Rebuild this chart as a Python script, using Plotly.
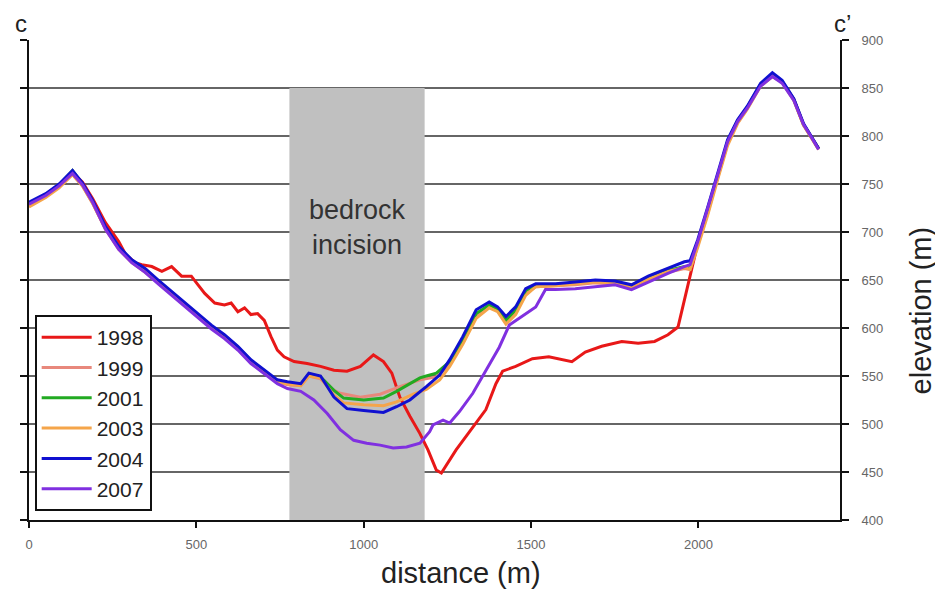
import plotly.graph_objects as go

# ---------------- data ----------------
years = ["1998", "1999", "2001", "2003", "2004", "2007"]
colors = ["#e81818", "#e8887c", "#22aa22", "#f5a54a", "#1010d0", "#8030e0"]

dist_1998 = [0, 50, 90, 130, 160, 190, 228, 268, 288, 317, 337, 367, 397, 426, 456, 485, 505, 525, 555, 584,
             604, 624, 644, 663, 683, 703, 723, 742, 762, 792, 831, 871, 911, 950, 990, 1029, 1059, 1084, 1108, 1138,
             1168, 1192, 1217, 1232, 1276, 1326, 1365, 1395, 1415, 1454, 1504, 1553, 1593, 1622, 1662, 1711, 1771, 1820, 1869, 1909,
             1939, 1958, 1975, 1998, 2028, 2057, 2087, 2117, 2146, 2186, 2221, 2250, 2285, 2314, 2339, 2359]
elev_1998 = [729, 739, 749, 762, 752, 735, 710, 690, 677, 668, 666, 664, 659, 664, 654, 654, 645, 636, 626, 624,
             626, 617, 621, 614, 615, 608, 591, 577, 570, 565, 563, 560, 556, 555, 560, 572, 565, 553, 528, 508,
             490, 473, 452, 449, 473, 497, 515, 542, 555, 560, 568, 570, 567, 565, 575, 581, 586, 584, 586, 593,
             601, 629, 657, 688, 722, 758, 793, 815, 830, 854, 864, 857, 838, 812, 798, 787]

dist_1999 = [0, 50, 90, 130, 160, 190, 228, 268, 307, 347, 386, 426, 466, 505, 545, 584, 624, 663, 703, 742,
             772, 812, 836, 871, 901, 930, 990, 1049, 1108, 1168, 1217, 1257, 1296, 1336, 1375, 1400, 1425, 1454, 1484, 1514,
             1573, 1632, 1692, 1751, 1800, 1850, 1909, 1958, 1975, 1998, 2028, 2057, 2087, 2117, 2146, 2186, 2221, 2250, 2285, 2314,
             2339, 2359]
elev_1999 = [727, 737, 747, 760, 748, 730, 703, 682, 668, 658, 647, 635, 624, 612, 600, 590, 578, 564, 553, 544,
             541, 540, 550, 547, 537, 532, 528, 531, 539, 546, 549, 562, 585, 612, 622, 618, 605, 616, 636, 643,
             644, 645, 647, 646, 641, 650, 658, 662, 661, 686, 720, 756, 792, 814, 829, 853, 862, 856, 838, 812,
             797, 786]

dist_2001 = [0, 50, 90, 130, 160, 190, 228, 268, 307, 347, 386, 426, 466, 505, 545, 584, 624, 663, 703, 742,
             772, 812, 836, 871, 911, 940, 1000, 1059, 1098, 1138, 1168, 1187, 1217, 1257, 1296, 1336, 1375, 1400, 1425, 1454,
             1484, 1514, 1573, 1632, 1692, 1751, 1800, 1850, 1909, 1958, 1975, 1998, 2028, 2057, 2087, 2117, 2146, 2186, 2221, 2250,
             2285, 2314, 2339, 2359]
elev_2001 = [730, 739, 749, 764, 750, 732, 705, 684, 670, 660, 649, 637, 626, 614, 602, 592, 580, 566, 555, 545,
             543, 541, 552, 549, 535, 527, 525, 527, 534, 542, 548, 550, 553, 565, 588, 615, 624, 620, 608, 619,
             639, 645, 645, 647, 649, 648, 643, 652, 660, 664, 662, 688, 722, 758, 794, 816, 830, 854, 864, 857,
             838, 812, 798, 787]

dist_2003 = [0, 50, 90, 130, 160, 190, 228, 268, 307, 347, 386, 426, 466, 505, 545, 584, 624, 663, 703, 742,
             772, 812, 836, 871, 911, 940, 1000, 1059, 1098, 1148, 1187, 1227, 1257, 1296, 1336, 1375, 1400, 1425, 1454, 1484,
             1514, 1573, 1632, 1692, 1751, 1800, 1850, 1909, 1958, 1975, 1998, 2028, 2057, 2087, 2117, 2146, 2186, 2221, 2250, 2285,
             2314, 2339, 2359]
elev_2003 = [726, 736, 746, 760, 748, 730, 704, 683, 669, 659, 648, 636, 625, 613, 601, 591, 579, 565, 554, 544,
             542, 540, 550, 548, 530, 522, 520, 519, 523, 531, 536, 546, 560, 583, 610, 621, 617, 604, 614, 634,
             643, 644, 646, 648, 647, 643, 651, 659, 663, 661, 684, 718, 754, 790, 813, 828, 852, 862, 856, 837,
             811, 797, 786]

dist_2004 = [0, 50, 90, 130, 160, 190, 228, 268, 307, 347, 386, 426, 466, 505, 545, 584, 624, 663, 703, 742,
             772, 812, 836, 871, 911, 950, 1000, 1059, 1098, 1138, 1187, 1227, 1257, 1296, 1336, 1375, 1400, 1425, 1454, 1484,
             1514, 1573, 1632, 1692, 1751, 1800, 1850, 1909, 1958, 1975, 1998, 2028, 2057, 2087, 2117, 2146, 2186, 2221, 2250, 2285,
             2314, 2339, 2359]
elev_2004 = [731, 740, 750, 764, 751, 733, 706, 685, 671, 662, 650, 638, 627, 615, 603, 593, 581, 567, 556, 546,
             544, 542, 553, 550, 528, 516, 514, 512, 518, 525, 539, 551, 567, 591, 619, 627, 622, 612, 622, 641,
             646, 646, 648, 650, 649, 645, 654, 662, 669, 670, 692, 726, 761, 796, 817, 831, 855, 866, 858, 839,
             813, 799, 787]

dist_2007 = [0, 50, 90, 130, 160, 190, 228, 268, 307, 347, 386, 426, 466, 505, 545, 584, 624, 663, 703, 742,
             772, 812, 851, 891, 930, 970, 1009, 1049, 1088, 1128, 1168, 1197, 1207, 1237, 1257, 1286, 1326, 1365, 1405, 1435,
             1474, 1514, 1543, 1573, 1632, 1692, 1751, 1800, 1850, 1909, 1958, 1975, 1998, 2028, 2057, 2087, 2117, 2146, 2186, 2221,
             2250, 2285, 2314, 2339, 2359]
elev_2007 = [729, 738, 748, 761, 749, 731, 703, 682, 668, 658, 646, 634, 623, 611, 599, 589, 577, 563, 552, 542,
             537, 534, 525, 511, 494, 483, 480, 478, 475, 476, 480, 492, 499, 504, 501, 513, 532, 556, 580, 603,
             612, 622, 640, 640, 641, 643, 645, 640, 648, 657, 664, 666, 690, 724, 759, 794, 815, 829, 852, 862,
             855, 837, 812, 798, 786]

x_ticks = [0, 500, 1000, 1500, 2000]
y_ticks = [400, 450, 500, 550, 600, 650, 700, 750, 800, 850, 900]
grid_levels = [450, 500, 550, 600, 650, 700, 750, 800, 850]
incision_zone = [778, 1182]      # distance range of the shaded band
incision_top = 850

series = [
    (dist_1998, elev_1998),
    (dist_1999, elev_1999),
    (dist_2001, elev_2001),
    (dist_2003, elev_2003),
    (dist_2004, elev_2004),
    (dist_2007, elev_2007),
]

FONT = "Liberation Sans, Arial, Helvetica, sans-serif"

fig = go.Figure()
for (d, e), name, col in zip(series, years, colors):
    fig.add_trace(go.Scatter(x=d, y=e, mode="lines", name=name,
                             line=dict(color=col, width=3)))

shapes = [dict(type="rect", xref="x", yref="y",
               x0=incision_zone[0], x1=incision_zone[1], y0=400, y1=incision_top,
               fillcolor="#c0c0c0", line=dict(width=0), layer="below")]
for g in grid_levels:
    shapes.append(dict(type="line", xref="paper", yref="y", x0=0, x1=1, y0=g, y1=g,
                       line=dict(color="#333333", width=1.5), layer="below"))


def ann(text, x, y, size, color="#222", xref="paper", yref="paper", angle=0):
    return dict(text=text, xref=xref, yref=yref, x=x, y=y, showarrow=False,
                xanchor="center", yanchor="middle", textangle=angle,
                font=dict(size=size, color=color))


fig.update_layout(
    width=935, height=586,
    margin=dict(l=15, r=103, t=32, b=74),
    plot_bgcolor="white", paper_bgcolor="white",
    font=dict(family=FONT, color="#222"),
    shapes=shapes,
    showlegend=True,
    legend=dict(x=0.007, y=0.427, xanchor="left", yanchor="top",
                bordercolor="#111", borderwidth=2, bgcolor="white",
                font=dict(size=21, color="#222"), itemwidth=50, tracegroupgap=0),
    xaxis=dict(range=[0, 2423], tickvals=x_ticks, ticks="outside", ticklen=6, tickwidth=2,
               tickcolor="#111", showline=True, linecolor="#111", linewidth=2,
               showgrid=False, zeroline=False, tickfont=dict(size=13, color="#666"),
               ticklabelstandoff=5),
    yaxis=dict(range=[400, 900], tickvals=y_ticks, side="right", ticks="outside", ticklen=7,
               tickwidth=2, tickcolor="#111", showline=True, linecolor="#111", linewidth=2,
               mirror="ticks", showgrid=False, zeroline=False,
               tickfont=dict(size=13, color="#666"), ticklabelstandoff=10),
    annotations=[
        ann("c", -0.0095, 1.0354, 24),
        ann("c’", 1.0035, 1.0354, 24),
        ann("elevation (m)", 1.1004, 0.4375, 29, angle=-90),
        ann("distance (m)", 0.5324, -0.1104, 29),
        ann("bedrock", 980, 723, 27, color="#333", xref="x", yref="y"),
        ann("incision", 980, 686, 27, color="#333", xref="x", yref="y"),
    ],
)

fig.write_html("out.html")
